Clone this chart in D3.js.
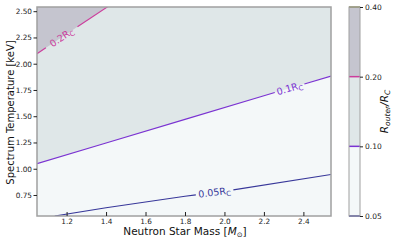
<!DOCTYPE html>
<html>
<head>
<meta charset="utf-8">
<script src="https://cdn.jsdelivr.net/npm/d3@7"></script>
<style>
  body { margin: 0; background: #fff; }
  text { font-family: "DejaVu Sans", sans-serif; }
</style>
</head>
<body>
<svg id="chart" width="399" height="243"></svg>
<script>
// axis ranges and ticks
const massRange = [1.05, 2.54];
const tempRange = [0.55, 2.54];
const massTicks = [1.2, 1.4, 1.6, 1.8, 2.0, 2.2, 2.4];
const tempTicks = [0.75, 1.00, 1.25, 1.50, 1.75, 2.00, 2.25, 2.50];

// contour levels (R_outer / R_C)
const levels = [0.05, 0.1, 0.2, 0.4];
const fillColors = ["#f4f8f9", "#dfe7e8", "#c5c5cf"];
const lineColors = ["#38389a", "#7b33d2", "#cc3d9c", "#8c8c55"];

// contour lines, [mass, temperature]
const line005 = [[1.14, 0.55], [1.4, 0.628], [1.8, 0.738], [2.04, 0.797], [2.54, 0.945]];
const line01 = [[1.05, 1.048], [1.4, 1.245], [1.8, 1.47], [2.2, 1.695], [2.54, 1.882]];
const line02 = [[1.05, 2.095], [1.2, 2.283], [1.41, 2.545]];

// contour labels: text, mass range of the gap
const labels = [
  {lvl: 0, line: line005, text: "0.05R", m0: 1.855, m1: 2.045},
  {lvl: 1, line: line01, text: "0.1R", m0: 2.255, m1: 2.405},
  {lvl: 2, line: line02, text: "0.2R", m0: 1.095, m1: 1.255}
];

const svg = d3.select("#chart");
const L = 37, T = 7, R = 331, B = 216;

const x = d3.scaleLinear().domain(massRange).range([L, R]);
const y = d3.scaleLinear().domain(tempRange).range([B, T]);

svg.append("clipPath").attr("id", "clip")
  .append("rect").attr("x", L).attr("y", T).attr("width", R - L).attr("height", B - T);

const plot = svg.append("g").attr("clip-path", "url(#clip)");

// background = lowest band
plot.append("rect").attr("x", L).attr("y", T).attr("width", R - L).attr("height", B - T)
  .attr("fill", fillColors[0]);

const above = d3.area().x(d => x(d[0])).y0(d => y(d[1])).y1(y(tempRange[1] + 0.1));
plot.append("path").datum(line01).attr("d", above).attr("fill", fillColors[1]);
plot.append("path").datum(line02).attr("d", above).attr("fill", fillColors[2]);

function tempAt(line, m) {
  for (let i = 0; i < line.length - 1; i++) {
    const a = line[i], b = line[i + 1];
    if (m >= a[0] && m <= b[0]) return a[1] + (b[1] - a[1]) * (m - a[0]) / (b[0] - a[0]);
  }
  return null;
}

const lineGen = d3.line().x(d => x(d[0])).y(d => y(d[1]));

labels.forEach(function(lb) {
  const t0 = tempAt(lb.line, lb.m0), t1 = tempAt(lb.line, lb.m1);
  const left = lb.line.filter(d => d[0] < lb.m0).concat([[lb.m0, t0]]);
  const right = [[lb.m1, t1]].concat(lb.line.filter(d => d[0] > lb.m1));
  [left, right].forEach(function(seg) {
    plot.append("path").datum(seg).attr("d", lineGen)
      .attr("fill", "none").attr("stroke", lineColors[lb.lvl]).attr("stroke-width", 1.1);
  });
  const cx = (x(lb.m0) + x(lb.m1)) / 2, cy = (y(t0) + y(t1)) / 2;
  const ang = Math.atan2(y(t1) - y(t0), x(lb.m1) - x(lb.m0)) * 180 / Math.PI;
  const txt = svg.append("text")
    .attr("transform", "translate(" + cx + "," + cy + ") rotate(" + ang + ")")
    .attr("text-anchor", "middle").attr("dy", "0.35em")
    .attr("font-size", 9.5).attr("fill", lineColors[lb.lvl]);
  txt.append("tspan").text(lb.text);
  txt.append("tspan").attr("font-size", 7).attr("dy", 2).text("C");
});

// spines
svg.append("rect").attr("x", L).attr("y", T).attr("width", R - L).attr("height", B - T)
  .attr("fill", "none").attr("stroke", "#a0a0a0").attr("stroke-width", 1.5);

const xAxis = svg.append("g").attr("transform", "translate(0," + B + ")")
  .call(d3.axisBottom(x).tickValues(massTicks).tickFormat(d3.format(".1f")).tickSize(-4).tickPadding(2.5));
const yAxis = svg.append("g").attr("transform", "translate(" + L + ",0)")
  .call(d3.axisLeft(y).tickValues(tempTicks).tickFormat(d3.format(".2f")).tickSize(3.5).tickPadding(1.5));
[xAxis, yAxis].forEach(function(g) {
  g.select(".domain").remove();
  g.selectAll("line").attr("stroke", "#222").attr("stroke-width", 1);
  g.selectAll("text").attr("font-size", 7.3).attr("fill", "#222").style("font-family", "DejaVu Sans");
});

svg.append("text").attr("x", (L + R) / 2 + 1).attr("y", 235).attr("text-anchor", "middle")
  .attr("font-size", 10.5).attr("fill", "#111")
  .html('Neutron Star Mass [<tspan font-style="italic">M</tspan><tspan font-size="7" dy="2">\u2299</tspan><tspan dy="-2">]</tspan>');

svg.append("text").attr("transform", "translate(14," + ((T + B) / 2 + 1) + ") rotate(-90)")
  .attr("text-anchor", "middle").attr("font-size", 10).attr("fill", "#111")
  .text("Spectrum Temperature [keV]");

// colorbar
const cbL = 349, cbR = 360;
const cy = d3.scalePoint().domain(levels).range([B, T]);
for (let i = 0; i < levels.length - 1; i++) {
  svg.append("rect").attr("x", cbL).attr("width", cbR - cbL)
    .attr("y", cy(levels[i + 1])).attr("height", cy(levels[i]) - cy(levels[i + 1]))
    .attr("fill", fillColors[i]);
}
levels.forEach(function(lv, i) {
  svg.append("line").attr("x1", cbL).attr("x2", cbR).attr("y1", cy(lv)).attr("y2", cy(lv))
    .attr("stroke", lineColors[i]).attr("stroke-width", 1.5);
});
svg.append("rect").attr("x", cbL).attr("y", T).attr("width", cbR - cbL).attr("height", B - T)
  .attr("fill", "none").attr("stroke", "#a0a0a0").attr("stroke-width", 1);
const cAxis = svg.append("g").attr("transform", "translate(" + cbR + ",0)")
  .call(d3.axisRight(cy).tickFormat(d3.format(".2f")).tickSize(3).tickPadding(2));
cAxis.select(".domain").remove();
cAxis.selectAll("line").attr("stroke", "#222");
cAxis.selectAll("text").attr("font-size", 7.5).attr("fill", "#222").style("font-family", "DejaVu Sans");

svg.append("text").attr("transform", "translate(388," + (T + B) / 2 + ") rotate(-90)")
  .attr("text-anchor", "middle").attr("font-size", 10.5).attr("fill", "#111").attr("font-style", "italic")
  .html('R<tspan font-size="7.5" dy="2">outer</tspan><tspan dy="-2">/R</tspan><tspan font-size="7.5" dy="2">C</tspan>');
</script>
</body>
</html>
